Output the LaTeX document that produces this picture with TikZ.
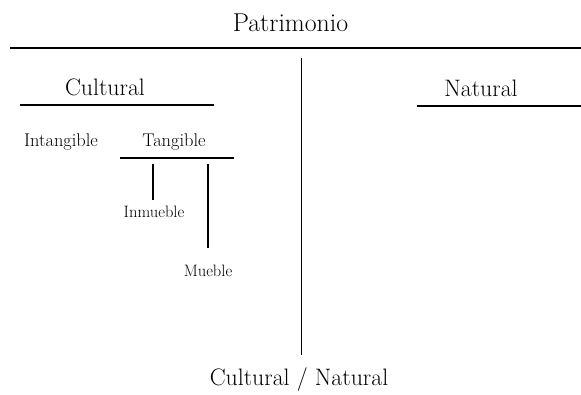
\documentclass[tikz,border=0pt]{standalone}
\usepackage{tikz}
\usetikzlibrary{positioning}

\tikzset{
    big/.style={anchor=base, inner sep=0pt, font=\fontsize{25.8}{30}\selectfont},
    mid/.style={anchor=base, inner sep=0pt, font=\fontsize{23.8}{28}\selectfont},
    small/.style={anchor=base, inner sep=0pt, font=\fontsize{18.4}{22}\selectfont},
    tiny/.style={anchor=base, inner sep=0pt, font=\fontsize{16.5}{20}\selectfont},
    rule/.style={line width=2pt},
    divider/.style={line width=1pt}
}

\begin{document}
\begin{tikzpicture}[x=1pt, y=-1pt]
    \useasboundingbox (0, 0) rectangle (581, 394);
    % labels
    \node[big] (patrimonio) at (290.5, 31) {Patrimonio};
    \node[mid] (cultural) at (105, 95) {Cultural};
    \node[mid] (natural) at (481, 96) {Natural};
    \node[small] (intangible) at (61, 146) {Intangible};
    \node[small] (tangible) at (174, 146) {Tangible};
    \node[tiny] (inmueble) at (154, 217) {Inmueble};
    \node[tiny] (mueble) at (208, 276) {Mueble};
    \node[mid] (both) at (299, 385) {Cultural / Natural};
    % rules
    \coordinate (top l) at (10, 48);
    \coordinate (top r) at (581, 48);
    \coordinate (cul l) at (20, 105);
    \coordinate (cul r) at (214, 105);
    \coordinate (nat l) at (417, 106);
    \coordinate (nat r) at (581, 106);
    \coordinate (tan l) at (120, 158);
    \coordinate (tan r) at (234, 158);
    \coordinate (inm) at (153, 164);
    \coordinate (mue) at (208, 164);
    \coordinate (mid t) at (301, 58);
    \coordinate (mid b) at (301, 355);
    \draw[rule]
    (top l) -- (top r)
    (cul l) -- (cul r)
    (nat l) -- (nat r)
    (tan l) -- (tan r)
    (inm) -- (153, 200)
    (mue) -- (208, 248);
    \draw[divider] (mid t) -- (mid b);
\end{tikzpicture}
\end{document}
